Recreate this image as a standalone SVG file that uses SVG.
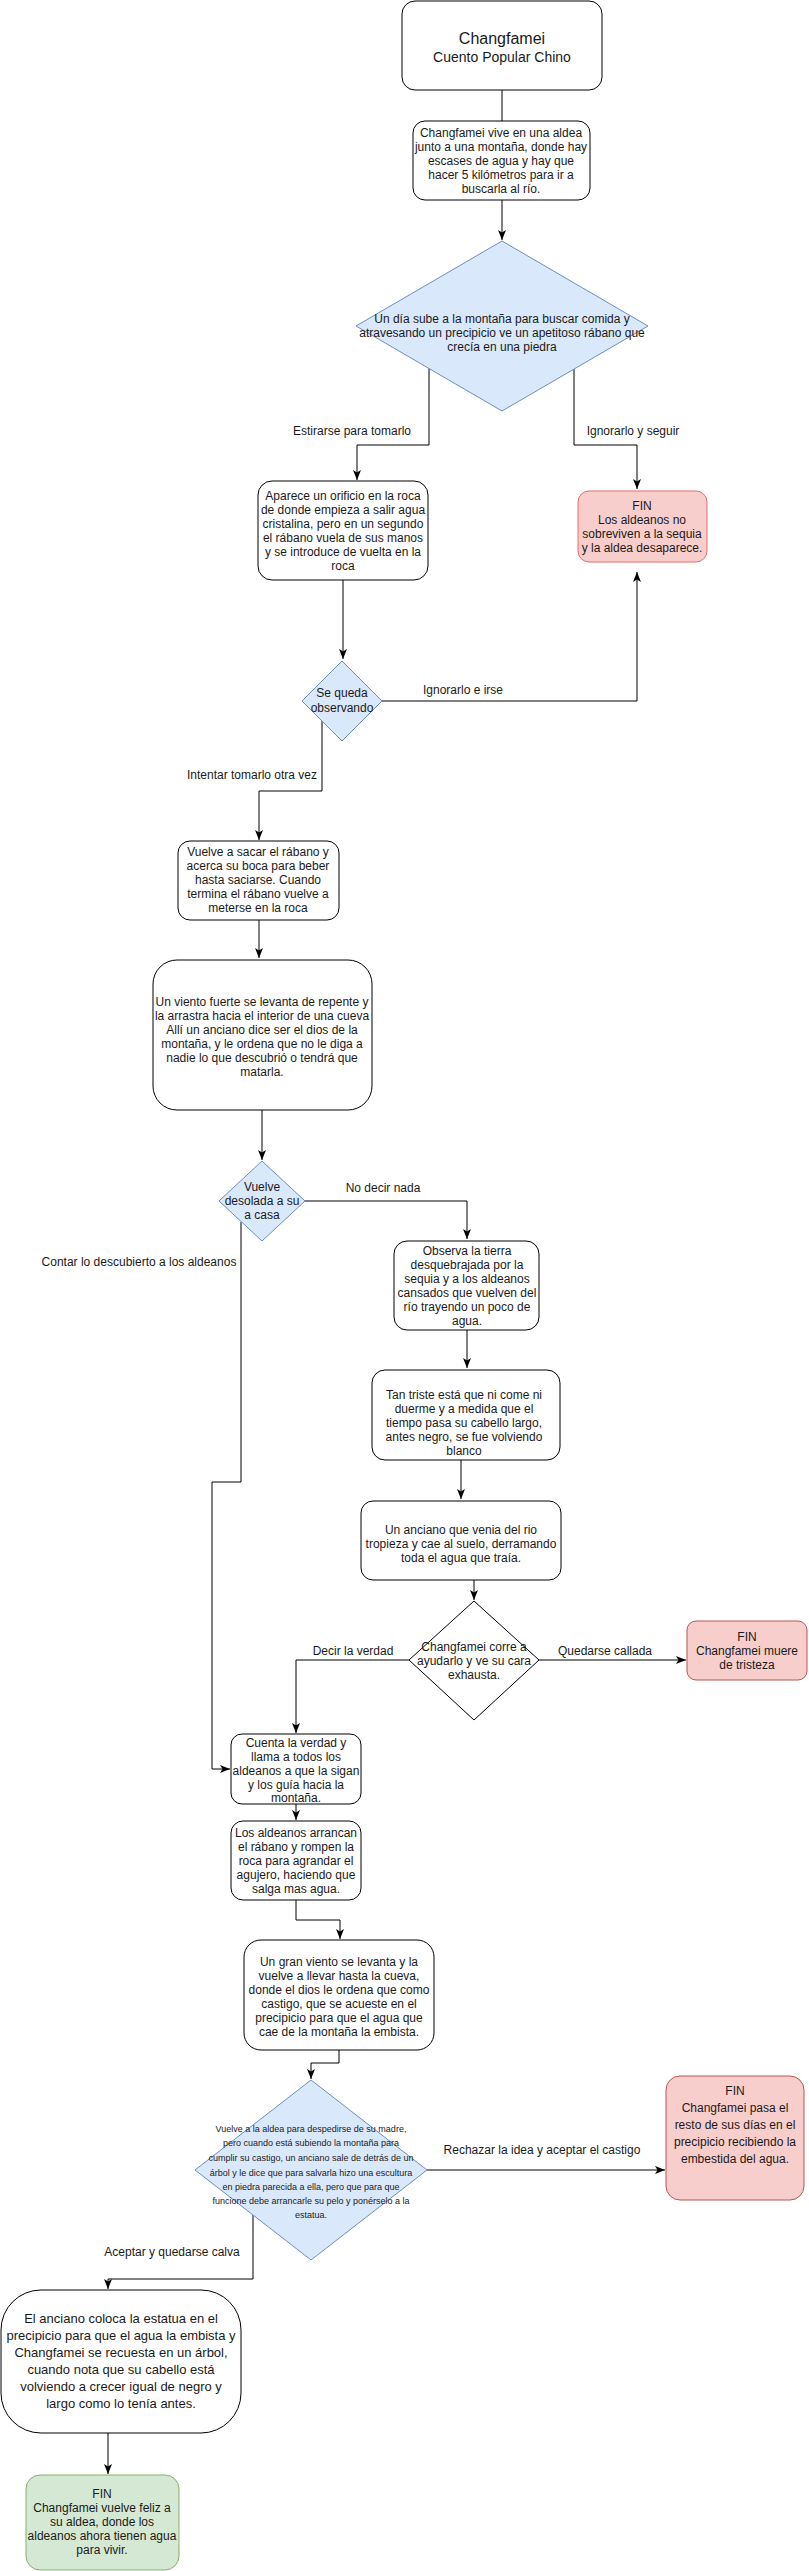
<svg xmlns="http://www.w3.org/2000/svg" width="809" height="2571" viewBox="0 0 809 2571">
<defs>
<marker id="arr" viewBox="0 0 10 8" refX="10" refY="4" markerWidth="10" markerHeight="8" orient="auto" markerUnits="userSpaceOnUse">
<path d="M0,0 L10,4 L0,8 L2.5,4 Z" fill="#000"/>
</marker>
<style>
text{font-family:"Liberation Sans",Arial,Helvetica,sans-serif;font-size:12px;fill:#1a1a1a;text-anchor:middle}
.box{fill:#fff;stroke:#000;stroke-width:1}
.dec{fill:#dae8fc;stroke:#6c8ebf;stroke-width:1}
.decw{fill:#fff;stroke:#000;stroke-width:1}
.red{fill:#f8cecc;stroke:#b85450;stroke-width:1}
.red2{fill:#f8cecc;stroke:#ea6b66;stroke-width:1}
.grn{fill:#d5e8d4;stroke:#82b366;stroke-width:1}
.c{fill:none;stroke:#000;stroke-width:1}
.ca{fill:none;stroke:#000;stroke-width:1;marker-end:url(#arr)}
.s9{font-size:9px}
.s13{font-size:13px}
</style>
</defs>
<g id="connectors">
<path class="c" d="M502,90 L502,121"/>
<path class="ca" d="M502,200 L502,240"/>
<path class="ca" d="M429,368 L429,445 L357,445 L357,480"/>
<path class="ca" d="M574,368 L574,445 L637,445 L637,489"/>
<path class="ca" d="M343,580 L343,659"/>
<path class="ca" d="M382,701 L637,701 L637,572"/>
<path class="ca" d="M322,721 L322,791 L259,791 L259,840"/>
<path class="ca" d="M259,920 L259,958"/>
<path class="ca" d="M262,1110 L262,1160"/>
<path class="ca" d="M305,1201 L467,1201 L467,1239"/>
<path class="ca" d="M241,1222 L241,1482 L212,1482 L212,1769 L230,1769"/>
<path class="ca" d="M467,1330 L467,1368"/>
<path class="ca" d="M461,1460 L461,1499"/>
<path class="ca" d="M474,1580 L474,1600"/>
<path class="ca" d="M539,1660 L686,1660"/>
<path class="ca" d="M409,1660 L296,1660 L296,1733"/>
<path class="ca" d="M296,1804 L296,1820"/>
<path class="ca" d="M296,1900 L296,1920 L340,1920 L340,1939"/>
<path class="ca" d="M339,2050 L339,2063 L311,2063 L311,2079"/>
<path class="ca" d="M427,2170 L665,2170"/>
<path class="ca" d="M253,2215 L253,2279 L108,2279 L108,2289"/>
<path class="ca" d="M108,2433 L108,2474"/>
<text x="352" y="435">Estirarse para tomarlo</text>
<text x="633" y="435">Ignorarlo y seguir</text>
<text x="463" y="694">Ignorarlo e irse</text>
<text x="252" y="779">Intentar tomarlo otra vez</text>
<text x="383" y="1192">No decir nada</text>
<text x="139" y="1266">Contar lo descubierto a los aldeanos</text>
<text x="605" y="1655">Quedarse callada</text>
<text x="353" y="1655">Decir la verdad</text>
<text x="542" y="2154">Rechazar la idea y aceptar el castigo</text>
<text x="172" y="2256">Aceptar y quedarse calva</text>
</g>
<g id="n-title">
<rect class="box" x="402" y="1" width="200" height="89" rx="13"/>
<text x="502" y="44" style="font-size:16px">Changfamei</text>
<text x="502" y="62" style="font-size:14px">Cuento Popular Chino</text>
</g>
<g id="n-aldea">
<rect class="box" x="413" y="121" width="177" height="79" rx="12"/>
<text x="501" y="137">Changfamei vive en una aldea</text>
<text x="501" y="151">junto a una montaña, donde hay</text>
<text x="501" y="165">escases de agua y hay que</text>
<text x="501" y="179">hacer 5 kilómetros para ir a</text>
<text x="501" y="193">buscarla al río.</text>
</g>
<g id="d-montana">
<polygon class="dec" points="502,241 648,326 502,411 356,326"/>
<text x="502" y="323">Un día sube a la montaña para buscar comida y</text>
<text x="502" y="337">atravesando un precipicio ve un apetitoso rábano que</text>
<text x="502" y="351">crecía en una piedra</text>
</g>
<g id="n-orificio">
<rect class="box" x="258" y="481" width="170" height="99" rx="14"/>
<text x="343" y="500">Aparece un orificio en la roca</text>
<text x="343" y="514">de donde empieza a salir agua</text>
<text x="343" y="528">cristalina, pero en un segundo</text>
<text x="343" y="542">el rábano vuela de sus manos</text>
<text x="343" y="556">y se introduce de vuelta en la</text>
<text x="343" y="570">roca</text>
</g>
<g id="fin-sequia">
<rect class="red2" x="578" y="491" width="129" height="71" rx="11"/>
<text x="642" y="510">FIN</text>
<text x="642" y="524">Los aldeanos no</text>
<text x="642" y="538">sobreviven a la sequia</text>
<text x="642" y="552">y la aldea desaparece.</text>
</g>
<g id="d-observando">
<polygon class="dec" points="342,661 382,701 342,741 302,701"/>
<text x="342" y="697">Se queda</text>
<text x="342" y="712">observando</text>
</g>
<g id="n-saciarse">
<rect class="box" x="178" y="841" width="161" height="79" rx="12"/>
<text x="258" y="856">Vuelve a sacar el rábano y</text>
<text x="258" y="870">acerca su boca para beber</text>
<text x="258" y="884">hasta saciarse. Cuando</text>
<text x="258" y="898">termina el rábano vuelve a</text>
<text x="258" y="912">meterse en la roca</text>
</g>
<g id="n-viento">
<rect class="box" x="153" y="960" width="219" height="150" rx="24"/>
<text x="262" y="1006">Un viento fuerte se levanta de repente y</text>
<text x="262" y="1020">la arrastra hacia el interior de una cueva</text>
<text x="262" y="1034">Allí un anciano dice ser el dios de la</text>
<text x="262" y="1048">montaña, y le ordena que no le diga a</text>
<text x="262" y="1062">nadie lo que descubrió o tendrá que</text>
<text x="262" y="1076">matarla.</text>
</g>
<g id="d-desolada">
<polygon class="dec" points="262,1161 305,1201 262,1241 219,1201"/>
<text x="262" y="1191">Vuelve</text>
<text x="262" y="1205">desolada a su</text>
<text x="262" y="1219">a casa</text>
</g>
<g id="n-observa">
<rect class="box" x="394" y="1241" width="145" height="89" rx="13"/>
<text x="467" y="1255">Observa la tierra</text>
<text x="467" y="1269">desquebrajada por la</text>
<text x="467" y="1283">sequia y a los aldeanos</text>
<text x="467" y="1297">cansados que vuelven del</text>
<text x="467" y="1311">río trayendo un poco de</text>
<text x="467" y="1325">agua.</text>
</g>
<g id="n-triste">
<rect class="box" x="372" y="1370" width="188" height="90" rx="13"/>
<text x="464" y="1399">Tan triste está que ni come ni</text>
<text x="464" y="1413">duerme y a medida que el</text>
<text x="464" y="1427">tiempo pasa su cabello largo,</text>
<text x="464" y="1441">antes negro, se fue volviendo</text>
<text x="464" y="1455">blanco</text>
</g>
<g id="n-anciano">
<rect class="box" x="361" y="1501" width="200" height="79" rx="12"/>
<text x="461" y="1534">Un anciano que venia del rio</text>
<text x="461" y="1548">tropieza y cae al suelo, derramando</text>
<text x="461" y="1562">toda el agua que traía.</text>
</g>
<g id="d-ayudarlo">
<polygon class="decw" points="474,1601 539,1660 474,1720 409,1660"/>
<text x="474" y="1651">Changfamei corre a</text>
<text x="474" y="1665">ayudarlo y ve su cara</text>
<text x="474" y="1679">exhausta.</text>
</g>
<g id="fin-tristeza">
<rect class="red" x="687" y="1621" width="120" height="59" rx="9"/>
<text x="747" y="1641">FIN</text>
<text x="747" y="1655">Changfamei muere</text>
<text x="747" y="1669">de tristeza</text>
</g>
<g id="n-cuenta">
<rect class="box" x="231" y="1734" width="130" height="70" rx="11"/>
<text x="296" y="1747">Cuenta la verdad y</text>
<text x="296" y="1761">llama a todos los</text>
<text x="296" y="1775">aldeanos a que la sigan</text>
<text x="296" y="1789">y los guía hacia la</text>
<text x="296" y="1802">montaña.</text>
</g>
<g id="n-arrancan">
<rect class="box" x="231" y="1821" width="130" height="79" rx="12"/>
<text x="296" y="1837">Los aldeanos arrancan</text>
<text x="296" y="1851">el rábano y rompen la</text>
<text x="296" y="1865">roca para agrandar el</text>
<text x="296" y="1879">agujero, haciendo que</text>
<text x="296" y="1893">salga mas agua.</text>
</g>
<g id="n-castigo">
<rect class="box" x="244" y="1940" width="190" height="110" rx="17"/>
<text x="339" y="1966">Un gran viento se levanta y la</text>
<text x="339" y="1980">vuelve a llevar hasta la cueva,</text>
<text x="339" y="1994">donde el dios le ordena que como</text>
<text x="339" y="2008">castigo, que se acueste en el</text>
<text x="339" y="2022">precipicio para que el agua que</text>
<text x="339" y="2036">cae de la montaña la embista.</text>
</g>
<g id="d-estatua">
<polygon class="dec" points="311,2080 427,2170 311,2260 195,2170"/>
<text class="s9" x="311" y="2132">Vuelve a la aldea para despedirse de su madre,</text>
<text class="s9" x="311" y="2146">pero cuando está subiendo la montaña para</text>
<text class="s9" x="311" y="2161">cumplir su castigo, un anciano sale de detrás de un</text>
<text class="s9" x="311" y="2176">árbol y le dice que para salvarla hizo una escultura</text>
<text class="s9" x="311" y="2190">en piedra parecida a ella, pero que para que</text>
<text class="s9" x="311" y="2204">funcione debe arrancarle su pelo y ponérselo a la</text>
<text class="s9" x="311" y="2218">estatua.</text>
</g>
<g id="fin-embestida">
<rect class="red" x="666" y="2076" width="138" height="124" rx="14"/>
<text x="735" y="2095">FIN</text>
<text x="735" y="2112">Changfamei pasa el</text>
<text x="735" y="2129">resto de sus días en el</text>
<text x="735" y="2146">precipicio recibiendo la</text>
<text x="735" y="2163">embestida del agua.</text>
</g>
<g id="n-coloca">
<rect class="box" x="1" y="2290" width="240" height="143" rx="40"/>
<text class="s13" x="121" y="2323">El anciano coloca la estatua en el</text>
<text class="s13" x="121" y="2340">precipicio para que el agua la embista y</text>
<text class="s13" x="121" y="2357">Changfamei se recuesta en un árbol,</text>
<text class="s13" x="121" y="2374">cuando nota que su cabello está</text>
<text class="s13" x="121" y="2391">volviendo a crecer igual de negro y</text>
<text class="s13" x="121" y="2408">largo como lo tenía antes.</text>
</g>
<g id="fin-feliz">
<rect class="grn" x="26" y="2475" width="153" height="95" rx="14"/>
<text x="102" y="2498">FIN</text>
<text x="102" y="2512">Changfamei vuelve feliz a</text>
<text x="102" y="2526">su aldea, donde los</text>
<text x="102" y="2540">aldeanos ahora tienen agua</text>
<text x="102" y="2554">para vivir.</text>
</g>
</svg>
